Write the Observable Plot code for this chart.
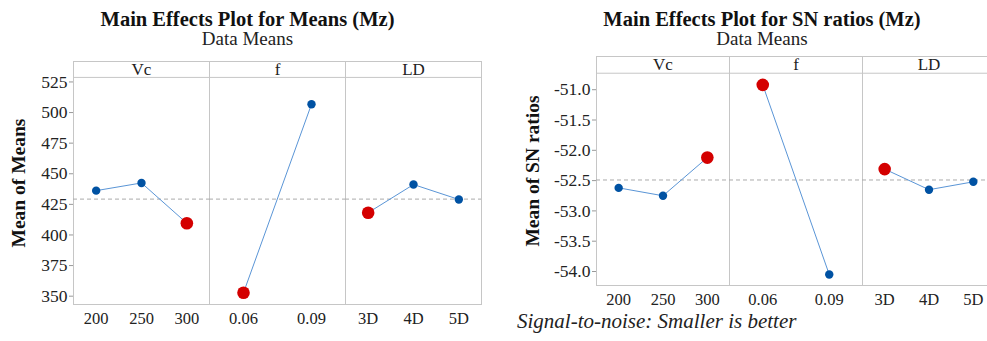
<!DOCTYPE html>
<html><head><meta charset="utf-8">
<script src="https://cdn.jsdelivr.net/npm/d3@7"></script>
<script src="https://cdn.jsdelivr.net/npm/@observablehq/plot@0.6"></script>
<style>
html,body{margin:0;padding:0;background:#fff;overflow:hidden;}
#wrap{position:relative;width:987px;height:341px;overflow:hidden;font-family:"Liberation Serif","Times New Roman",serif;color:#111;}
.abs{position:absolute;white-space:nowrap;line-height:1;}
.title{font-weight:bold;font-size:20.5px;text-align:center;}
.sub{font-size:19px;text-align:center;color:#222;}
.ylab{font-weight:bold;font-size:19.5px;transform:translate(-50%,-50%) rotate(-90deg);}
.cap{font-style:italic;font-size:21px;color:#222;}
.chart{position:absolute;top:0;}
#wrap svg text{font-family:"Liberation Serif","Times New Roman",serif;}
</style></head>
<body><div id="wrap"></div>
<script>
// ---- data ----
const factors = ["Vc", "f", "LD"];
const levels = [["200", "250", "300"], ["0.06", "0.09"], ["3D", "4D", "5D"]];
const meansValues = [[436.2, 442.5, 409.6], [352.8, 506.8], [418.2, 441.2, 429.0]];
const snValues = [[-52.62, -52.75, -52.12], [-50.92, -54.05], [-52.31, -52.65, -52.52]];
const optimalLevels = ["300", "0.06", "3D"];
const meansGrand = 429.3;
const snGrand = -52.49;
const meansTicks = [350, 375, 400, 425, 450, 475, 500, 525];
const snTicks = [-54.0, -53.5, -53.0, -52.5, -52.0, -51.5, -51.0];

const wrap = document.getElementById("wrap");
function addText(cls, text, style) {
  const d = document.createElement("div");
  d.className = "abs " + cls;
  d.textContent = text;
  Object.assign(d.style, style);
  wrap.appendChild(d);
}

const serif = "Liberation Serif";
function makeChart(values, o) {
  const rows = [];
  factors.forEach((f, i) => levels[i].forEach((l, j) => rows.push({
    factor: f, level: l, pos: (j + 0.5) / levels[i].length, value: values[i][j], opt: optimalLevels.includes(l)
  })));
  const grid = "#c6c6c6";
  return Plot.plot({
    width: o.width, height: 341,
    marginLeft: o.ml, marginRight: o.mr, marginTop: o.mt, marginBottom: 341 - o.bottom,
    style: "font-family: 'Liberation Serif', serif; font-size: 16px; color: #222; background: transparent;",
    fx: {domain: factors, padding: 0, axis: null},
    x: {domain: [0, 1], axis: null},
    y: {domain: o.yDomain, axis: null},
    marks: [
      Plot.frame({stroke: grid}),
      Plot.ruleY([o.strip], {stroke: grid}),
      Plot.ruleY([o.grand], {stroke: "#aaaaaa", strokeDasharray: "4,3"}),
      Plot.text(factors, {fx: d => d, text: d => d, frameAnchor: "top", lineAnchor: "middle", dy: o.stripDy, fontSize: 17, fontFamily: serif, fill: "#222"}),
      Plot.line(rows, {fx: "factor", x: "pos", y: "value", stroke: "#5a95d6", strokeWidth: 1}),
      Plot.dot(rows.filter(d => !d.opt), {fx: "factor", x: "pos", y: "value", r: 4.2, fill: "#0052a3", stroke: "none"}),
      Plot.dot(rows.filter(d => d.opt), {fx: "factor", x: "pos", y: "value", r: 6.3, fill: "#d40000", stroke: "none"}),
      Plot.text(rows, {fx: "factor", x: "pos", text: "level", frameAnchor: "bottom", lineAnchor: "middle", dy: 14, fontSize: 16.5, fontFamily: serif, fill: "#222"}),
      Plot.axisY(o.ticks, {tickSize: 4, tickPadding: 2, stroke: "#999", fill: "#222", tickFormat: o.fmt, label: null, fontSize: 17.5, fontFamily: serif})
    ]
  });
}

const left = makeChart(meansValues, {
  width: 495, ml: 72, mr: 14, mt: 61, bottom: 304,
  yDomain: [343.2, 541.7], strip: 528.7, grand: meansGrand, ticks: meansTicks, fmt: d => String(d), stripDy: 8
});
left.classList.add("chart"); left.style.left = "0px";
wrap.appendChild(left);

const right = makeChart(snValues, {
  width: 500, ml: 101, mr: 0, mt: 56, bottom: 285,
  yDomain: [-54.231, -50.452], strip: -50.728, grand: snGrand, ticks: snTicks, fmt: d => d.toFixed(1), stripDy: 8.3
});
right.classList.add("chart"); right.style.left = "495px";
wrap.appendChild(right);

addText("title", "Main Effects Plot for Means (Mz)", {left: "0px", width: "495px", top: "8.8px"});
addText("sub", "Data Means", {left: "0px", width: "495px", top: "29.1px"});
addText("title", "Main Effects Plot for SN ratios (Mz)", {left: "495px", width: "534px", top: "8.8px"});
addText("sub", "Data Means", {left: "495px", width: "534px", top: "29.1px"});
addText("ylab", "Mean of Means", {left: "19px", top: "182.5px"});
addText("ylab", "Mean of SN ratios", {left: "533px", top: "170.5px"});
addText("cap", "Signal-to-noise: Smaller is better", {left: "517px", top: "311.4px"});
</script></body></html>
